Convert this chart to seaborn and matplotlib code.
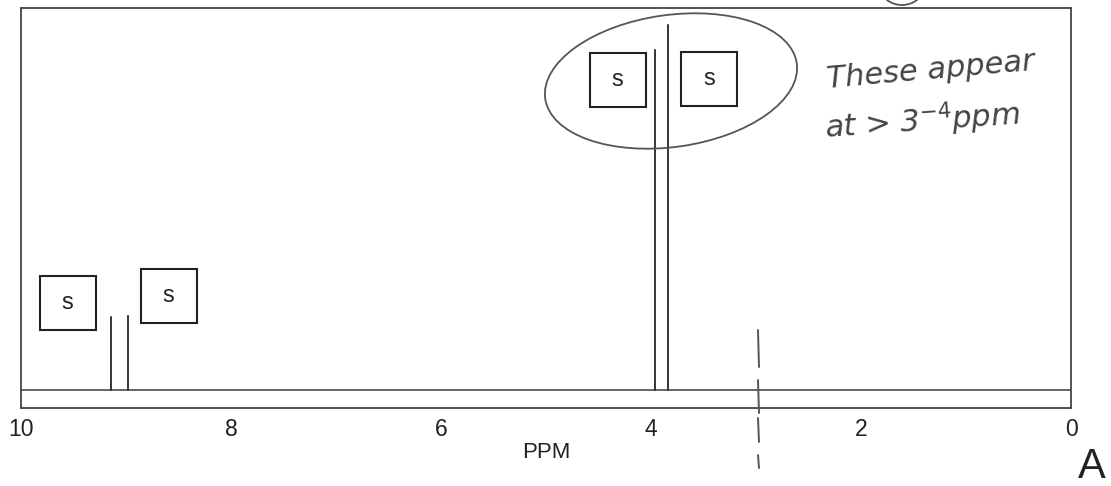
import numpy as np
import pandas as pd
import seaborn as sns
import matplotlib
matplotlib.use("Agg")
import matplotlib.pyplot as plt
from matplotlib.patches import Ellipse, Rectangle
from matplotlib.transforms import Affine2D
from matplotlib.lines import Line2D

# datos del espectro (picos singuletes)
peak_ppm = [9.14, 8.98, 3.96, 3.84]
peak_height = [18.9, 19.4, 89.1, 95.6]
peak_mult = ["s", "s", "s", "s"]
tick_major = [10, 8, 6, 4, 2, 0]
tick_minor = [9, 7, 5, 3, 1]

sns.set_style("white")
plt.rcParams['font.family'] = ['Liberation Sans', 'DejaVu Sans']

W, H = 1111, 486
fig = plt.figure(figsize=(W / 100, H / 100), dpi=100)
ax = fig.add_axes([21 / W, 1 - 407.5 / H, 1050 / W, 399.5 / H])

# trazo del espectro: linea base + picos
xs, ys = [10.0], [0.0]
for p, h in zip(peak_ppm, peak_height):
    xs += [p, p, p]
    ys += [0.0, h, 0.0]
xs.append(0.0)
ys.append(0.0)
df = pd.DataFrame({"ppm": xs, "int": ys})
sns.lineplot(data=df, x="ppm", y="int", sort=False, estimator=None,
             color="#3a3a3a", linewidth=1.1, ax=ax)

ax.set_xlim(10, 0)
ax.set_ylim(-4.7, 100)
ax.set_xticks(tick_major)
ax.set_xticklabels([str(t) for t in tick_major])
ax.set_xticks(tick_minor, minor=True)
ax.set_yticks([])
ax.set_ylabel("")
ax.set_xlabel("PPM", fontsize=16, labelpad=1, color="#222222")
ax.tick_params(axis="x", which="major", direction="out", length=6, width=1.1,
               pad=1.5, labelsize=16.5, colors="#222222")
ax.tick_params(axis="x", which="minor", direction="out", length=5, width=1.1,
               colors="#333333")
for s in ax.spines.values():
    s.set_visible(True)
    s.set_color("#444444")
    s.set_linewidth(1.3)

# coordenadas en pixeles (origen arriba-izquierda)
pix = Affine2D().scale(1, -1).translate(0, H)

# cajas de multiplicidad
box_centers = [(67.5, 303), (168.5, 296), (617.5, 80), (709, 79)]
for (cx, cy), m in zip(box_centers, peak_mult):
    fig.patches.append(Rectangle((cx - 28, cy - 27), 56, 54, transform=pix,
                                 fill=False, edgecolor="#222222", linewidth=1.5))
    fig.text(cx / W, 1 - cy / H, m, ha="center", va="center", fontsize=17,
             color="#222222")

# anotaciones a mano
fig.patches.append(Ellipse((671, 81), 254, 132, angle=-8, transform=pix,
                           fill=False, edgecolor="#555555", linewidth=1.3))
fig.patches.append(Ellipse((902, -12), 42, 34, transform=pix,
                           fill=False, edgecolor="#555555", linewidth=1.3))
fig.text(931 / W, 1 - 70 / H, "These appear", ha="center", va="center",
         fontsize=22, rotation=5, style="italic", family="DejaVu Sans",
         color="#444444")
fig.text(922 / W, 1 - 121 / H, "at > 3$^{-4}$ppm", ha="center", va="center",
         fontsize=22, rotation=4, style="italic", family="DejaVu Sans",
         color="#444444")
for y0, y1 in [(330, 367), (380, 413), (418, 442), (455, 468)]:
    fig.lines.append(Line2D([758, 759], [y0, y1], transform=pix,
                            color="#555555", linewidth=1.4))

fig.text(1091.5 / W, 1 - 478 / H, "A", ha="center", va="baseline",
         fontsize=30, color="#222222")

fig.savefig("out.png", dpi=100, facecolor="white")
